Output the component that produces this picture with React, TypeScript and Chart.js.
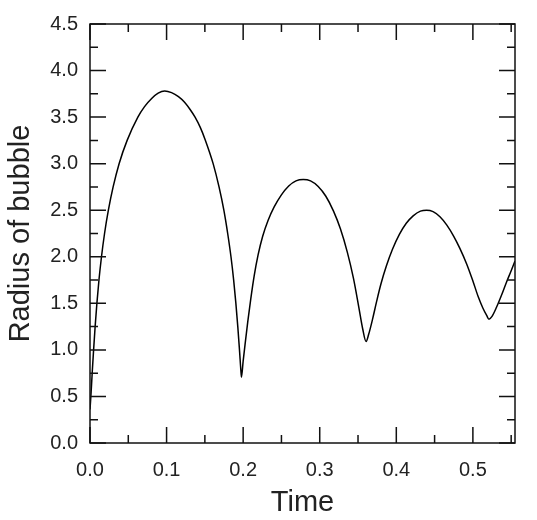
import React, { useEffect, useRef } from "react";
import { Chart, registerables } from "chart.js";

Chart.register(...registerables);

const times = [
  0, 0.0015, 0.003, 0.0047, 0.0067, 0.009, 0.0117, 0.015, 0.019, 0.024, 0.0302, 0.038, 0.0485, 0.0625, 0.071, 0.0805, 0.089, 0.0975,
  0.1065, 0.1155, 0.1235, 0.1305, 0.1372, 0.144, 0.1505, 0.1608, 0.1685, 0.1748, 0.1798, 0.1841, 0.1876, 0.1905, 0.193, 0.1952, 0.1973, 0.1978,
  0.2, 0.2025, 0.206, 0.21, 0.2145, 0.2195, 0.2255, 0.2325, 0.2405, 0.2495, 0.2595, 0.269, 0.2785,
  0.288, 0.298, 0.308, 0.318, 0.327, 0.336, 0.344, 0.351, 0.356, 0.3605,
  0.364, 0.369, 0.374, 0.38, 0.387, 0.395, 0.404, 0.413, 0.422, 0.4315, 0.4395,
  0.448, 0.457, 0.466, 0.475, 0.483, 0.492, 0.5, 0.507, 0.513, 0.518, 0.521,
  0.525, 0.531, 0.538, 0.544, 0.55, 0.555,
];
const radii = [
  0.36, 0.55, 0.77, 1.0, 1.25, 1.5, 1.75, 2.0, 2.25, 2.5, 2.75, 3.0, 3.25, 3.5, 3.61, 3.7, 3.757, 3.78,
  3.763, 3.72, 3.66, 3.585, 3.5, 3.39, 3.255, 3.0, 2.75, 2.5, 2.25, 2.0, 1.75, 1.5, 1.25, 1.0, 0.75, 0.707,
  0.88, 1.06, 1.3, 1.55, 1.8, 2.02, 2.22, 2.39, 2.535, 2.66, 2.76, 2.815, 2.83,
  2.815, 2.755, 2.65, 2.49, 2.3, 2.05, 1.77, 1.46, 1.23, 1.09,
  1.17, 1.33, 1.51, 1.71, 1.9, 2.08, 2.24, 2.36, 2.44, 2.49, 2.5,
  2.485, 2.43, 2.34, 2.22, 2.09, 1.92, 1.74, 1.57, 1.45, 1.37, 1.33,
  1.36, 1.46, 1.6, 1.73, 1.85, 1.955,
];

const xMajorTicks = [0, 0.1, 0.2, 0.3, 0.4, 0.5];
const xMinorTicks = [0.05, 0.15, 0.25, 0.35, 0.45, 0.55];
const yMajorTicks = [0, 0.5, 1.0, 1.5, 2.0, 2.5, 3.0, 3.5, 4.0, 4.5];
const yMinorTicks = [0.25, 0.75, 1.25, 1.75, 2.25, 2.75, 3.25, 3.75, 4.25];

const X_MIN = 0;
const X_MAX = 0.555;
const Y_MIN = 0;
const Y_MAX = 4.5;

const framePlugin = {
  id: "framePlugin",
  afterDraw(chart: any) {
    const { ctx, chartArea } = chart;
    const xs = chart.scales.x;
    const ys = chart.scales.y;
    const { left, right, top, bottom } = chartArea;
    ctx.save();
    ctx.strokeStyle = "#111";
    ctx.lineWidth = 1.5;
    ctx.beginPath();
    const tick = (x1: number, y1: number, x2: number, y2: number) => {
      ctx.moveTo(x1, y1);
      ctx.lineTo(x2, y2);
    };
    xMajorTicks.forEach((v) => {
      const p = xs.getPixelForValue(v);
      tick(p, bottom, p, bottom - 16);
      tick(p, top, p, top + 16);
    });
    xMinorTicks.forEach((v) => {
      const p = xs.getPixelForValue(v);
      tick(p, bottom, p, bottom - 8);
      tick(p, top, p, top + 8);
    });
    yMajorTicks.forEach((v) => {
      const p = ys.getPixelForValue(v);
      tick(left, p, left + 16, p);
      tick(right, p, right - 16, p);
    });
    yMinorTicks.forEach((v) => {
      const p = ys.getPixelForValue(v);
      tick(left, p, left + 8, p);
      tick(right, p, right - 8, p);
    });
    ctx.stroke();
    ctx.strokeRect(left, top, right - left, bottom - top);
    ctx.restore();
  },
};

export default function App() {
  const ref = useRef<HTMLCanvasElement>(null);
  useEffect(() => {
    if (!ref.current) return;
    const data = times.map((t, i) => ({ x: t, y: radii[i] }));
    const chart = new Chart(ref.current, {
      type: "scatter",
      data: {
        datasets: [
          {
            data,
            showLine: true,
            borderColor: "#000",
            borderWidth: 1.5,
            pointRadius: 0,
            cubicInterpolationMode: "monotone",
          } as any,
        ],
      },
      options: {
        animation: false,
        responsive: true,
        maintainAspectRatio: false,
        layout: { padding: { top: 18, right: 22, left: 0, bottom: 0 } },
        plugins: { legend: { display: false }, tooltip: { enabled: false } },
        scales: {
          x: {
            type: "linear",
            min: X_MIN,
            max: X_MAX,
            grid: { display: false, drawTicks: false },
            border: { display: false },
            afterFit: (s: any) => {
              s.height = 77;
            },
            ticks: {
              stepSize: 0.1,
              includeBounds: false,
              padding: 15,
              color: "#222",
              font: { family: "'Liberation Sans', Arial, sans-serif", size: 20 },
              callback: (v: any) => Number(v).toFixed(1),
            },
            title: {
              display: true,
              text: "Time",
              color: "#222",
              padding: { top: 0, bottom: 0 },
              font: { family: "'Liberation Sans', Arial, sans-serif", size: 29 },
            },
          },
          y: {
            type: "linear",
            min: Y_MIN,
            max: Y_MAX,
            grid: { display: false, drawTicks: false },
            border: { display: false },
            afterFit: (s: any) => {
              s.width = 90;
            },
            ticks: {
              stepSize: 0.5,
              padding: 12,
              color: "#222",
              font: { family: "'Liberation Sans', Arial, sans-serif", size: 20 },
              callback: (v: any) => Number(v).toFixed(1),
            },
            title: {
              display: true,
              text: "Radius of bubble",
              color: "#222",
              padding: { top: 4, bottom: 0 },
              font: { family: "'Liberation Sans', Arial, sans-serif", size: 29 },
            },
          },
        },
      },
      plugins: [framePlugin],
    });
    return () => chart.destroy();
  }, []);
  return (
    <div style={{ position: "fixed", left: 0, top: 0, width: 537, height: 520, background: "#fff" }}>
      <canvas ref={ref} />
    </div>
  );
}
